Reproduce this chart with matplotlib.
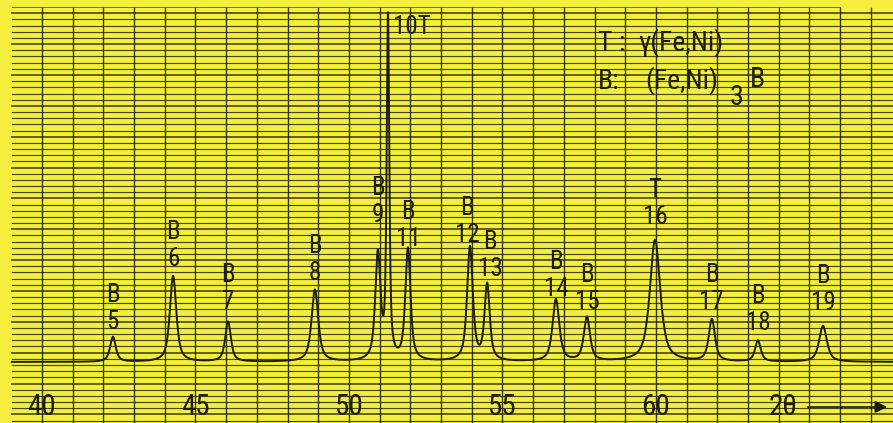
import numpy as np
import matplotlib
matplotlib.use("Agg")
import matplotlib.pyplot as plt
from matplotlib import font_manager

# ---- data ----
peak_pos = [42.31, 44.27, 46.06, 48.89, 50.94, 51.27, 51.92, 53.94, 54.50, 56.74, 57.75, 59.97, 61.82, 63.32, 65.44]
peak_height = [25, 86, 40, 72, 106, 342, 112, 114, 76, 62, 44, 122, 42, 21, 36]
peak_fwhm = [0.22, 0.25, 0.22, 0.26, 0.20, 0.10, 0.20, 0.22, 0.20, 0.26, 0.24, 0.40, 0.24, 0.22, 0.30]
peak_phase = ["B", "B", "B", "B", "B", "T", "B", "B", "B", "B", "B", "T", "B", "B", "B"]
peak_num = ["5", "6", "7", "8", "9", "10", "11", "12", "13", "14", "15", "16", "17", "18", "19"]
xtick_vals = [40, 45, 50, 55, 60]
legend_keys = ["T :", "B:"]
legend_phases = ["γ(Fe,Ni)", "(Fe,Ni)"]

# ---- layout ----
W, H = 893, 423
BASE_PX = 362
YELLOW = "#F4EF3C"
INK = "#1c1c10"

avail = {f.name for f in font_manager.fontManager.ttflist}
FONT = "DejaVu Sans"
for cand in ["Roboto Condensed", "Archivo Narrow", "PT Sans Narrow", "Barlow Semi Condensed",
             "Liberation Sans Narrow", "Barlow Condensed"]:
    if cand in avail:
        FONT = cand
        break

fig = plt.figure(figsize=(W / 100, H / 100), dpi=100)
fig.patch.set_facecolor(YELLOW)
ax = fig.add_axes([0, 0, 1, 1])
ax.set_facecolor(YELLOW)
deg_px = 30.7
x0 = 40 - 42 / deg_px
x1 = 40 + (W - 42) / deg_px
ax.set_xlim(x0, x1)
ax.set_ylim(-(H - BASE_PX), BASE_PX)
ax.axis("off")

def px2x(px):
    return 40 + (px - 42) / deg_px

def py2y(py):
    return BASE_PX - py

def txt(xv, yv, s, size, ha="center"):
    ax.text(xv, yv, s, fontsize=size, family=[FONT, "DejaVu Sans"], fontweight="normal",
            color=INK, ha=ha, va="center", zorder=4)

# grid: vertical lines every degree, horizontal lines every ~6.17 px
grid_left = px2x(12)
for d in range(39, 68):
    if d >= grid_left:
        ax.plot([d, d], [py2y(423), py2y(8)], color=INK, lw=1.0, alpha=0.85, zorder=1)
k = 0
py = 13.3
while py < H:
    lw = 1.2 if k % 5 == 0 else 0.85
    ax.plot([grid_left, x1], [py2y(py), py2y(py)], color=INK, lw=lw, alpha=0.8, zorder=1)
    py += 6.17
    k += 1
ax.plot([grid_left, px2x(840)], [py2y(7), py2y(7)], color=INK, lw=0.7, alpha=0.6, zorder=1)

# diffraction trace (pseudo-Voigt peaks on flat baseline)
x = np.linspace(px2x(12), x1, 5000)
y = np.zeros_like(x)
for p, h, w in zip(peak_pos, peak_height, peak_fwhm):
    hw = w / 2
    lor = hw ** 2 / ((x - p) ** 2 + hw ** 2)
    gau = np.exp(-np.log(2) * ((x - p) / hw) ** 2)
    y += h * (0.7 * lor + 0.3 * gau)
ax.plot(x, y, color=INK, lw=1.4, zorder=3)

# peak labels
label_top_px = [295, 232, 275, 246, 188, None, 212, 208, 242, 262, 275, 190, 275, 296, 276]
label_dx_px = [0, 0, 0, 0, 0, 0, 0, -3, 3, 0, 0, 0, 0, 0, 0]
for p, ph, n, tp, dx in zip(peak_pos, peak_phase, peak_num, label_top_px, label_dx_px):
    if tp is None:
        txt(px2x(412), py2y(27), n + ph, 18)
        continue
    xp = p + dx / deg_px
    txt(xp, py2y(tp), ph, 18)
    txt(xp, py2y(tp + 27), n, 18)

# axis labels
for v in xtick_vals:
    txt(v, py2y(407), str(v), 21)
txt(px2x(783), py2y(407), "2θ", 21)
ax.annotate("", xy=(px2x(890), py2y(407)), xytext=(px2x(805), py2y(407)),
            arrowprops=dict(arrowstyle="-|>", color=INK, lw=1.2, mutation_scale=18), zorder=4)

# legend
txt(px2x(598), py2y(43), legend_keys[0], 20, ha="left")
txt(px2x(638), py2y(43), legend_phases[0], 20, ha="left")
txt(px2x(598), py2y(81), legend_keys[1], 20, ha="left")
txt(px2x(645), py2y(81), legend_phases[1], 20, ha="left")
txt(px2x(737), py2y(97), "3", 20)
txt(px2x(757), py2y(79), "B", 20)

fig.savefig("out.png", dpi=100, facecolor=YELLOW)
